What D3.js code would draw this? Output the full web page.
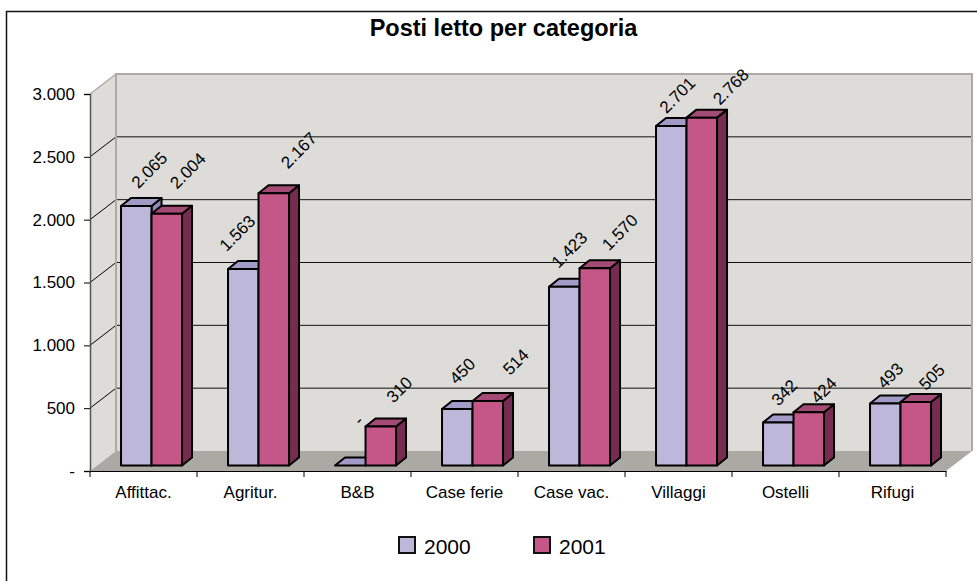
<!DOCTYPE html>
<html><head><meta charset="utf-8">
<script src="https://cdn.jsdelivr.net/npm/d3@7"></script>
<style>html,body{margin:0;padding:0;background:#fff}svg{display:block}text{font-family:"Liberation Sans",Arial,sans-serif;fill:#000}</style>
</head><body><svg id="c" width="977" height="581"></svg>
<script>
const categories = ["Affittac.","Agritur.","B&B","Case ferie","Case vac.","Villaggi","Ostelli","Rifugi"];
const series2000 = [2065,1563,0,450,1423,2701,342,493];
const series2001 = [2004,2167,310,514,1570,2768,424,505];
const seriesNames = ["2000","2001"];
const yTicks = [0,500,1000,1500,2000,2500,3000];
const yTickLabels = ["-","500","1.000","1.500","2.000","2.500","3.000"];
const title = "Posti letto per categoria";
// hand-placed label offsets in the source chart (dx, dy from bar top centre)
const nudge2000 = [[14,-35],[-5,-35],[9,-44.5],[6,-37],[6,-36],[7,-30],[7,-29],[6,-27]];
const nudge2001 = [[22,-42],[26,-42],[19.5,-36],[29,-38],[26,-35],[30,-30],[16,-21],[17,-24]];

const cols = {
  "2000":{front:"#BDB8DA",top:"#A29BC8",side:"#8F88B8"},
  "2001":{front:"#C45787",top:"#A34A75",side:"#762C50"}
};
const svg = d3.select("#c");
svg.append("path").attr("d","M6.5,581V11.5H977").attr("fill","none").attr("stroke","#111").attr("stroke-width",1.5);

const y = d3.scaleLinear().domain([0,3000]).range([471,94]);
const x = d3.scaleBand().domain(categories).range([90,946]);
const depth = {dx:26,dy:-20};
const barDepth = {dx:10,dy:-8};
const base = 465.5;
const yBar = v => base-(y(0)-y(v));

const pts = a => a.map(p=>p.join(",")).join(" ");
// walls
const [x0,x1]=x.range();
svg.append("polygon").attr("points",pts([[x0,y(0)],[x0+depth.dx,y(0)+depth.dy],[x0+depth.dx,y(3000)+depth.dy],[x0,y(3000)]])).attr("fill","#DDDCD8");
svg.append("polygon").attr("points",pts([[x0+depth.dx,y(0)+depth.dy],[x1+depth.dx,y(0)+depth.dy],[x1+depth.dx,y(3000)+depth.dy],[x0+depth.dx,y(3000)+depth.dy]])).attr("fill","#DDDCD8");
svg.append("polygon").attr("points",pts([[x0,y(0)],[x1,y(0)],[x1+depth.dx,y(0)+depth.dy],[x0+depth.dx,y(0)+depth.dy]])).attr("fill","#ABA9A4");
// grid
yTicks.slice(1,-1).forEach(t=>{
  svg.append("line").attr("x1",x0).attr("y1",y(t)).attr("x2",x0+depth.dx).attr("y2",y(t)+depth.dy).attr("stroke","#000");
  svg.append("line").attr("x1",x0+depth.dx).attr("y1",y(t)+depth.dy).attr("x2",x1+depth.dx).attr("y2",y(t)+depth.dy).attr("stroke","#111");
});
// wall edges
const edge="#ADABA6";
svg.append("polyline").attr("points",pts([[x0+depth.dx,y(0)+depth.dy],[x0+depth.dx,y(3000)+depth.dy],[x1+depth.dx,y(3000)+depth.dy],[x1+depth.dx,y(0)+depth.dy]])).attr("fill","none").attr("stroke",edge).attr("stroke-width",2);
svg.append("polyline").attr("points",pts([[x0,y(3000)],[x0+depth.dx,y(3000)+depth.dy]])).attr("fill","none").attr("stroke",edge).attr("stroke-width",1.5);
// axes
const yAxis = d3.axisLeft(y).tickValues(yTicks).tickFormat((d,i)=>yTickLabels[i]).tickSize(6).tickPadding(9);
const gy = svg.append("g").attr("transform",`translate(${x0},0)`).call(yAxis);
gy.selectAll("text").style("font-size","17px").attr("fill","#000");
gy.select(".domain").attr("stroke","#555").attr("stroke-width",1.5);
const xAxis = d3.axisBottom(x).tickValues(categories).tickSize(0).tickPadding(15);
const gx = svg.append("g").attr("transform",`translate(0,${y(0)})`).call(xAxis);
gx.selectAll("text").style("font-size","17px");
gx.select(".domain").attr("stroke","#000");
svg.append("g").selectAll("line").data(d3.range(categories.length+1)).join("line")
  .attr("x1",i=>x0+i*x.step()).attr("x2",i=>x0+i*x.step()).attr("y1",y(0)).attr("y2",y(0)+6).attr("stroke","#000");

// bars
const bw = x.step()*0.285;
const off = x.step()*0.29;
const rows=[];
categories.forEach((c,i)=>{
  rows.push({c,s:"2000",v:series2000[i],x:x(c)+off,n:nudge2000[i]});
  rows.push({c,s:"2001",v:series2001[i],x:x(c)+off+bw,n:nudge2001[i]});
});
const bars = svg.append("g").selectAll("g").data(rows).join("g").attr("stroke","#000").attr("stroke-width",2).attr("stroke-linejoin","round");
bars.append("polygon").attr("fill",d=>cols[d.s].side).attr("points",d=>pts([[d.x+bw,base],[d.x+bw+barDepth.dx,base+barDepth.dy],[d.x+bw+barDepth.dx,yBar(d.v)+barDepth.dy],[d.x+bw,yBar(d.v)]]));
bars.append("polygon").attr("fill",d=>cols[d.s].top).attr("points",d=>pts([[d.x,yBar(d.v)],[d.x+barDepth.dx,yBar(d.v)+barDepth.dy],[d.x+bw+barDepth.dx,yBar(d.v)+barDepth.dy],[d.x+bw,yBar(d.v)]]));
bars.filter(d=>d.v>0).append("rect").attr("fill",d=>cols[d.s].front).attr("x",d=>d.x).attr("width",bw).attr("y",d=>yBar(d.v)).attr("height",d=>base-yBar(d.v));
// labels
const fmt = v => v===0?"-":d3.format(",")(v).replace(/,/g,".");
svg.append("g").selectAll("text").data(rows).join("text")
  .attr("text-anchor","middle").attr("dominant-baseline","middle").style("font-size","17px")
  .attr("transform",d=>`translate(${d.x+bw/2+d.n[0]},${yBar(d.v)+d.n[1]}) rotate(-45)`)
  .text(d=>fmt(d.v));
// title
svg.append("text").attr("x",503.5).attr("y",36).attr("text-anchor","middle").style("font-size","23.5px").style("font-weight","bold").text(title);
// legend
const lx=d3.scaleOrdinal().domain(seriesNames).range([399,534]);
const lg=svg.append("g").selectAll("g").data(seriesNames).join("g").attr("transform",d=>`translate(${lx(d)},537)`);
lg.append("rect").attr("width",16).attr("height",16).attr("fill",d=>cols[d].front).attr("stroke","#111").attr("stroke-width",2);
lg.append("text").attr("x",25).attr("y",17).style("font-size","21px").text(d=>d);
</script></body></html>
